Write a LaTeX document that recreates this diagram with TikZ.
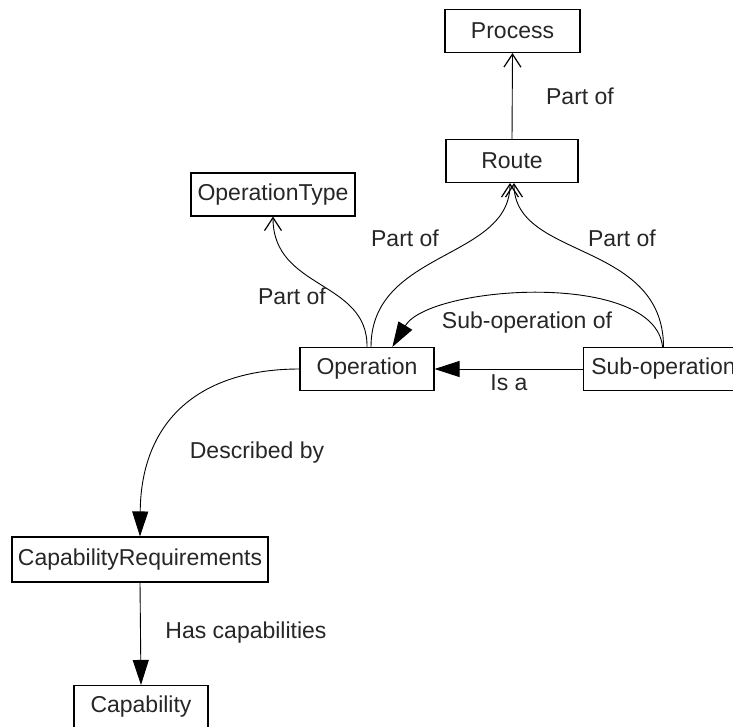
\documentclass[tikz,border=0pt]{standalone}
\usepackage{fontspec}
\setmainfont{Liberation Sans}
\usetikzlibrary{arrows.meta,calc}
\begin{document}
\begin{tikzpicture}[x=1pt,y=-1pt,
  cls/.style={draw, line width=1.1pt, minimum height=43pt, inner sep=4pt,
    font=\fontsize{23}{26}\selectfont, text=black!85},
  lbl/.style={font=\fontsize{23}{26}\selectfont, text=black!85, inner sep=0pt},
  link/.style={line width=0.9pt},
  partof/.style={link, -{Straight Barb[length=13pt,width=17pt,line width=1.2pt]}},
  rel/.style={link, -{Triangle[length=25pt,width=16pt]}}]
\clip (0,0) rectangle (733,726);
\useasboundingbox (0,0) rectangle (733,726);

% classes
\node[cls, minimum width=135pt] (process) at (512.5,31) {Process};
\node[cls, minimum width=132pt] (route) at (512,161) {Route};
\node[cls, minimum width=164pt] (optype) at (273,194.5) {OperationType};
\node[cls, minimum width=134pt] (op) at (367,369) {Operation};
\node[cls, minimum width=160pt, anchor=west] (subop) at (583,369) {Sub-operation};
\node[cls, minimum width=256pt, minimum height=45pt] (capreq) at (140,559.5) {CapabilityRequirements};
\node[cls, minimum width=134pt] (cap) at (141,707) {Capability};

% part-of links
\draw[partof] (route.north) -- (process.south);
\draw[partof] (op.north) .. controls (368,280) and (273,290) .. (optype.south);
\draw[partof] ($(op.north)+(4,0)$) .. controls (371,250) and (510,260) .. ($(route.south)+(-2,0)$);
\draw[partof] (subop.north) .. controls (663,240) and (514,260) .. ($(route.south)+(2,0)$);

% sub-operation links
\draw[rel] ($(subop.north)+(-1,0)$) .. controls (655,270) and (430,285) .. (op.41);
\draw[rel] (subop.west) -- (op.east);

% requirement links
\draw[rel] (op.west) .. controls (200,369) and (141,420) .. (capreq.north);
\draw[rel] (capreq.south) -- (cap.north);

% link labels
\node[lbl] (l1) at (580,96) {Part of};
\node[lbl] (l2) at (292,296) {Part of};
\node[lbl] (l3) at (405,238) {Part of};
\node[lbl] (l4) at (622,238) {Part of};
\node[lbl] (l5) at (527,323) {Sub-operation of};
\node[lbl] (l6) at (509,383) {Is a};
\node[lbl] (l7) at (257,453) {Described by};
\node[lbl] (l8) at (246,633) {Has capabilities};
\end{tikzpicture}
\end{document}
